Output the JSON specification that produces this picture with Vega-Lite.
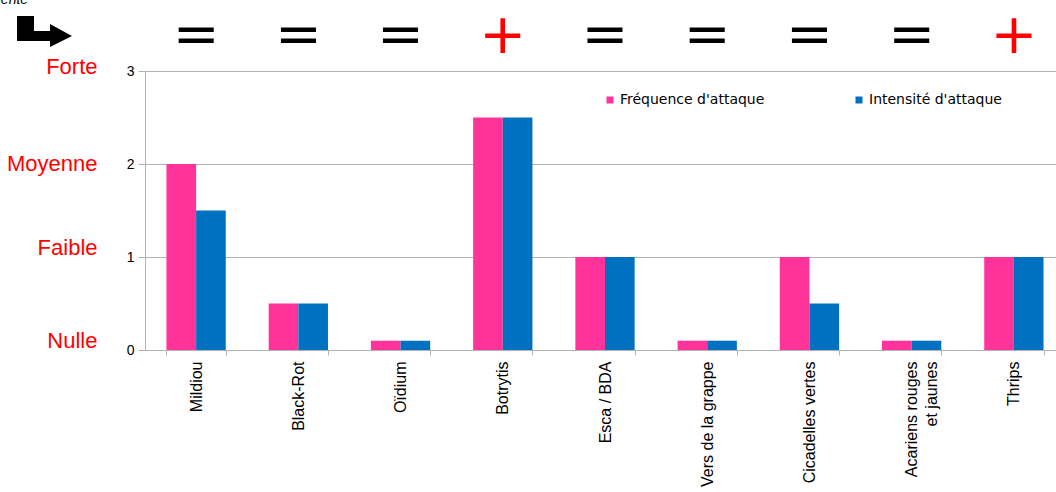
{
  "$schema": "https://vega.github.io/schema/vega-lite/v6.json",
  "width": 911,
  "height": 279,
  "autosize": {"type": "none"},
  "padding": {"left": 145, "top": 71, "right": 0, "bottom": 142},
  "background": "white",
  "config": {
    "view": {"stroke": null},
    "axis": {"domainColor": "#b3b3b3", "tickColor": "#b3b3b3", "gridColor": "#b3b3b3", "labelColor": "#000000", "labelFont": "Liberation Sans"}
  },
  "datasets": {
    "attaques": [
      {"maladie": "Mildiou", "mesure": "Fréquence d'attaque", "niveau": 2},
      {"maladie": "Mildiou", "mesure": "Intensité d'attaque", "niveau": 1.5},
      {"maladie": "Black-Rot", "mesure": "Fréquence d'attaque", "niveau": 0.5},
      {"maladie": "Black-Rot", "mesure": "Intensité d'attaque", "niveau": 0.5},
      {"maladie": "Oïdium", "mesure": "Fréquence d'attaque", "niveau": 0.1},
      {"maladie": "Oïdium", "mesure": "Intensité d'attaque", "niveau": 0.1},
      {"maladie": "Botrytis", "mesure": "Fréquence d'attaque", "niveau": 2.5},
      {"maladie": "Botrytis", "mesure": "Intensité d'attaque", "niveau": 2.5},
      {"maladie": "Esca / BDA", "mesure": "Fréquence d'attaque", "niveau": 1},
      {"maladie": "Esca / BDA", "mesure": "Intensité d'attaque", "niveau": 1},
      {"maladie": "Vers de la grappe", "mesure": "Fréquence d'attaque", "niveau": 0.1},
      {"maladie": "Vers de la grappe", "mesure": "Intensité d'attaque", "niveau": 0.1},
      {"maladie": "Cicadelles vertes", "mesure": "Fréquence d'attaque", "niveau": 1},
      {"maladie": "Cicadelles vertes", "mesure": "Intensité d'attaque", "niveau": 0.5},
      {"maladie": "Acariens rouges et jaunes", "mesure": "Fréquence d'attaque", "niveau": 0.1},
      {"maladie": "Acariens rouges et jaunes", "mesure": "Intensité d'attaque", "niveau": 0.1},
      {"maladie": "Thrips", "mesure": "Fréquence d'attaque", "niveau": 1},
      {"maladie": "Thrips", "mesure": "Intensité d'attaque", "niveau": 1}
    ],
    "tendances": [
      {"maladie": "Mildiou", "tendance": "="},
      {"maladie": "Black-Rot", "tendance": "="},
      {"maladie": "Oïdium", "tendance": "="},
      {"maladie": "Botrytis", "tendance": "+"},
      {"maladie": "Esca / BDA", "tendance": "="},
      {"maladie": "Vers de la grappe", "tendance": "="},
      {"maladie": "Cicadelles vertes", "tendance": "="},
      {"maladie": "Acariens rouges et jaunes", "tendance": "="},
      {"maladie": "Thrips", "tendance": "+"}
    ],
    "fleche": [{"texte": "précédente"}]
  },
  "layer": [
    {
      "data": {"name": "attaques"},
      "mark": {"type": "bar"},
      "encoding": {
        "x": {
          "field": "maladie",
          "type": "nominal",
          "scale": {
            "domain": ["Mildiou", "Black-Rot", "Oïdium", "Botrytis", "Esca / BDA", "Vers de la grappe", "Cicadelles vertes", "Acariens rouges et jaunes", "Thrips"],
            "range": [0, 920],
            "paddingInner": 0.42,
            "paddingOuter": 0.21
          },
          "axis": {
            "title": null,
            "labelAngle": -90,
            "labelFontSize": 16,
            "labelPadding": 6,
            "tickSize": 5,
            "tickBand": "extent",
            "labelLineHeight": 20,
            "labelLimit": 300,
            "labelExpr": "datum.value === 'Acariens rouges et jaunes' ? ['Acariens rouges', 'et jaunes\u00a0\u00a0\u00a0\u00a0\u00a0\u00a0\u00a0\u00a0\u00a0\u00a0\u00a0'] : datum.value"
          }
        },
        "xOffset": {"field": "mesure", "type": "nominal", "scale": {"domain": ["Fréquence d'attaque", "Intensité d'attaque"]}},
        "y": {
          "field": "niveau",
          "type": "quantitative",
          "scale": {"domain": [0, 3], "nice": false},
          "axis": {"title": null, "values": [0, 1, 2, 3], "format": "d", "grid": true, "tickSize": 7, "labelPadding": 4, "labelFontSize": 14}
        },
        "color": {
          "field": "mesure",
          "type": "nominal",
          "scale": {"domain": ["Fréquence d'attaque", "Intensité d'attaque"], "range": ["#ff3399", "#0070c0"]},
          "legend": {
            "title": null,
            "orient": "none",
            "legendX": 458,
            "legendY": 22,
            "direction": "horizontal",
            "symbolType": "square",
            "symbolSize": 49,
            "symbolStrokeWidth": 0,
            "labelFont": "DejaVu Sans",
            "labelFontSize": 14,
            "labelColor": "#000000",
            "labelOffset": 3,
            "columnPadding": 87,
            "padding": 0,
            "labelLimit": 300
          }
        }
      }
    },
    {
      "data": {"name": "tendances"},
      "mark": {"type": "text", "font": "DejaVu Sans", "fontSize": 56, "baseline": "alphabetic", "align": "center"},
      "encoding": {
        "x": {"field": "maladie", "type": "nominal"},
        "y": {
          "datum": 3.197,
          "type": "quantitative",
          "scale": {"domain": [0, 3], "nice": false},
          "axis": {
            "orient": "left",
            "title": null,
            "values": [2.968, 1.928, 1.032, 0.022],
            "labelExpr": "datum.value > 2.5 ? 'Forte' : datum.value > 1.5 ? 'Moyenne' : datum.value > 0.5 ? 'Faible' : 'Nulle'",
            "labelColor": "#ff0000",
            "labelFontSize": 22,
            "labelFont": "Liberation Sans",
            "labelAlign": "right",
            "labelBaseline": "alphabetic",
            "domain": false,
            "ticks": false,
            "tickSize": 0,
            "grid": false,
            "offset": 40,
            "labelPadding": 8,
            "labelOverlap": false,
            "labelFlush": false,
            "labelBound": false
          }
        },
        "text": {"field": "tendance"},
        "color": {"condition": {"test": "datum.tendance === '+'", "value": "#ff0000"}, "value": "#000000"}
      }
    },
    {
      "data": {"name": "fleche"},
      "mark": {
        "type": "point",
        "shape": "M-1,-0.545L-0.382,-0.545L-0.382,0L0.2,0L0.2,-0.255L1,0.182L0.2,0.582L0.2,0.364L-1,0.364Z",
        "size": 3025,
        "filled": true,
        "color": "#000000",
        "opacity": 1,
        "strokeWidth": 0,
        "xOffset": -151.6
      },
      "encoding": {
        "x": {"datum": "Mildiou", "type": "nominal"},
        "y": {"datum": 3.43, "type": "quantitative", "scale": {"domain": [0, 3], "nice": false}, "axis": null}
      }
    },
    {
      "data": {"name": "fleche"},
      "mark": {"type": "text", "font": "Liberation Sans", "fontStyle": "italic", "fontSize": 14, "align": "right", "baseline": "alphabetic", "dx": -168, "color": "#000000"},
      "encoding": {
        "x": {"datum": "Mildiou", "type": "nominal"},
        "y": {"datum": 3.72, "type": "quantitative", "scale": {"domain": [0, 3], "nice": false}, "axis": null},
        "text": {"field": "texte"}
      }
    }
  ],
  "resolve": {"axis": {"y": "independent"}}
}
